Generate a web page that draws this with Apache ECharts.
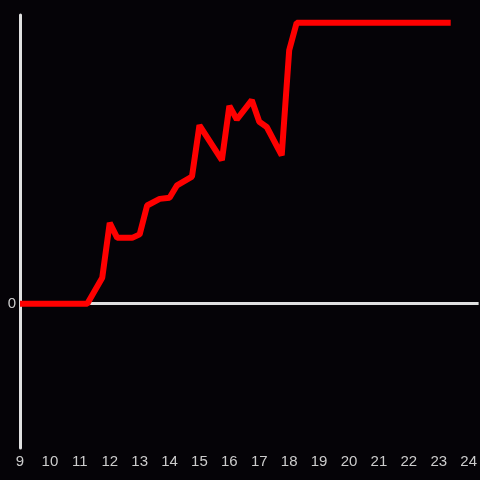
<!DOCTYPE html>
<html>
<head>
<meta charset="utf-8">
<script src="https://cdn.jsdelivr.net/npm/echarts@6/dist/echarts.min.js"></script>
<style>
html,body{margin:0;padding:0;background:#050307;}
#main{width:480px;height:480px;}
</style>
</head>
<body>
<div id="main"></div>
<script>
// time of day (hours) and the value at that time
var hours = [9, 11.25, 11.75, 12, 12.25, 12.75, 13, 13.25, 13.67, 14, 14.25, 14.75, 15, 15.75, 16, 16.25, 16.75, 17, 17.25, 17.75, 18, 18.25, 23.4];
var values = [0, 0, 0.09, 0.28, 0.228, 0.228, 0.24, 0.34, 0.363, 0.367, 0.41, 0.44, 0.618, 0.497, 0.685, 0.638, 0.705, 0.63, 0.612, 0.514, 0.878, 0.973, 0.973];

var points = [];
for (var i = 0; i < hours.length; i++) {
	points.push([hours[i], values[i]]);
}

var chart = echarts.init(document.getElementById("main"));
var option = {
	backgroundColor: '#050307',
	animation: false,
	grid: {
		left: 20,
		right: 0,
		top: 15,
		bottom: 32
	},
	xAxis: {
		type: 'value',
		min: 9,
		max: 24.333,
		interval: 1,
		axisLine: {onZero: false, show: false},
		axisTick: {show: false},
		splitLine: {show: false},
		axisLabel: {
			color: '#cccccc',
			fontSize: 15,
			margin: 6,
			showMaxLabel: false
		}
	},
	yAxis: {
		type: 'value',
		min: -0.5,
		max: 1,
		interval: 0.5,
		axisLine: {show: true, lineStyle: {color: '#e0e0e0', width: 3}},
		axisTick: {show: false},
		splitLine: {show: false},
		axisLabel: {
			color: '#cccccc',
			fontSize: 15,
			margin: 4,
			formatter: function (v) {
				return v === 0 ? '0' : '';
			}
		}
	},
	series: [
		{
			type: 'line',
			data: points,
			symbol: 'none',
			lineStyle: {color: '#ff0000', width: 6},
			z: 5,
			markLine: {
				silent: true,
				symbol: 'none',
				label: {show: false},
				lineStyle: {color: '#e0e0e0', width: 3, type: 'solid'},
				data: [{yAxis: 0}],
				z: 1
			}
		}
	]
};
chart.setOption(option);
</script>
</body>
</html>
